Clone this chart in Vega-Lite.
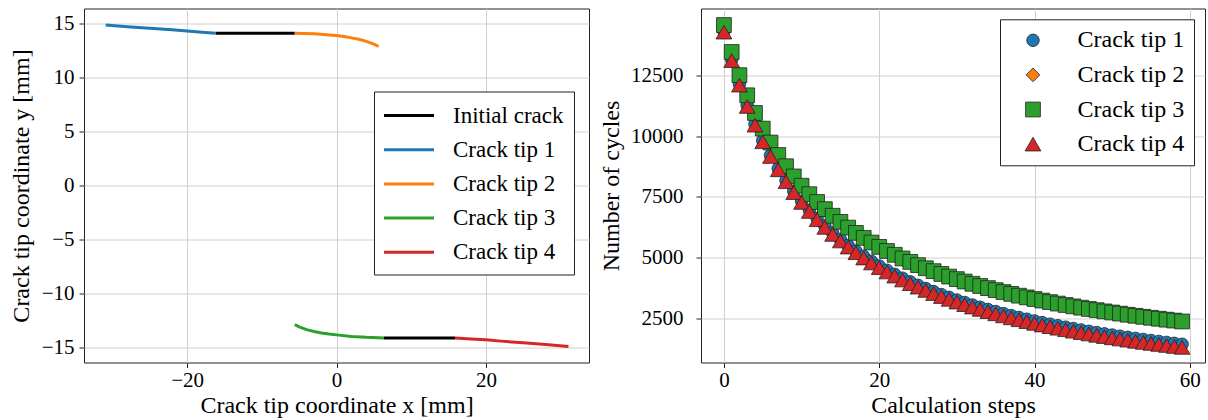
{
  "$schema": "https://vega.github.io/schema/vega-lite/v6.json",
  "background": "white",
  "padding": {"left": 8, "top": 7.5, "right": 0, "bottom": 0},
  "spacing": 8,
  "resolve": {"scale": {"color": "independent", "shape": "independent", "size": "independent"}, "legend": {"color": "independent", "shape": "independent", "size": "independent"}},
  "config": {
    "font": "Liberation Serif",
    "view": {"stroke": "#222", "strokeWidth": 1},
    "axis": {"grid": true, "gridColor": "#d0d0d0", "gridWidth": 1, "domain": false, "tickColor": "#222", "tickSize": 5, "labelFont": "Liberation Serif", "labelFontSize": 21, "labelColor": "#000", "titleFont": "Liberation Serif", "titleFontSize": 24, "titleFontWeight": "normal", "titleColor": "#000", "labelPadding": 2, "labelFlush": false, "labelOverlap": false},
    "axisX": {"titlePadding": 2.5},
    "legend": {"labelFont": "Liberation Serif", "labelFontSize": 23.5, "labelColor": "#000", "strokeColor": "#222", "fillColor": "#ffffff", "cornerRadius": 0, "title": null}
  },
  "hconcat": [
    {
      "width": 505,
      "height": 354,
      "data": {"values": [
        {"g": "Initial crack", "seg": "i1", "x": -16.17, "y": 14.11},
        {"g": "Initial crack", "seg": "i1", "x": -5.59, "y": 14.11},
        {"g": "Initial crack", "seg": "i2", "x": 6.3, "y": -14.13},
        {"g": "Initial crack", "seg": "i2", "x": 15.86, "y": -14.13},
        {"g": "Crack tip 1", "seg": "t1", "x": -30.9, "y": 14.88},
        {"g": "Crack tip 1", "seg": "t1", "x": -28, "y": 14.72},
        {"g": "Crack tip 1", "seg": "t1", "x": -25, "y": 14.57},
        {"g": "Crack tip 1", "seg": "t1", "x": -22, "y": 14.42},
        {"g": "Crack tip 1", "seg": "t1", "x": -20, "y": 14.32},
        {"g": "Crack tip 1", "seg": "t1", "x": -18, "y": 14.2},
        {"g": "Crack tip 1", "seg": "t1", "x": -16.17, "y": 14.11},
        {"g": "Crack tip 2", "seg": "t2", "x": -5.59, "y": 14.11},
        {"g": "Crack tip 2", "seg": "t2", "x": -3, "y": 14.05},
        {"g": "Crack tip 2", "seg": "t2", "x": -1, "y": 13.95},
        {"g": "Crack tip 2", "seg": "t2", "x": 0, "y": 13.89},
        {"g": "Crack tip 2", "seg": "t2", "x": 1, "y": 13.8},
        {"g": "Crack tip 2", "seg": "t2", "x": 2, "y": 13.68},
        {"g": "Crack tip 2", "seg": "t2", "x": 3, "y": 13.55},
        {"g": "Crack tip 2", "seg": "t2", "x": 4, "y": 13.35},
        {"g": "Crack tip 2", "seg": "t2", "x": 5, "y": 13.1},
        {"g": "Crack tip 2", "seg": "t2", "x": 5.65, "y": 12.88},
        {"g": "Crack tip 3", "seg": "t3", "x": -5.59, "y": -12.88},
        {"g": "Crack tip 3", "seg": "t3", "x": -5, "y": -13.1},
        {"g": "Crack tip 3", "seg": "t3", "x": -4, "y": -13.35},
        {"g": "Crack tip 3", "seg": "t3", "x": -3, "y": -13.52},
        {"g": "Crack tip 3", "seg": "t3", "x": -2, "y": -13.66},
        {"g": "Crack tip 3", "seg": "t3", "x": -1, "y": -13.76},
        {"g": "Crack tip 3", "seg": "t3", "x": 0, "y": -13.84},
        {"g": "Crack tip 3", "seg": "t3", "x": 2, "y": -13.98},
        {"g": "Crack tip 3", "seg": "t3", "x": 4, "y": -14.07},
        {"g": "Crack tip 3", "seg": "t3", "x": 6.3, "y": -14.13},
        {"g": "Crack tip 4", "seg": "t4", "x": 15.86, "y": -14.13},
        {"g": "Crack tip 4", "seg": "t4", "x": 18, "y": -14.22},
        {"g": "Crack tip 4", "seg": "t4", "x": 20, "y": -14.3},
        {"g": "Crack tip 4", "seg": "t4", "x": 22, "y": -14.42},
        {"g": "Crack tip 4", "seg": "t4", "x": 25, "y": -14.57},
        {"g": "Crack tip 4", "seg": "t4", "x": 28, "y": -14.74},
        {"g": "Crack tip 4", "seg": "t4", "x": 31.05, "y": -14.92}
      ]},
      "mark": {"type": "line", "strokeWidth": 3},
      "encoding": {
        "x": {"field": "x", "type": "quantitative", "scale": {"domain": [-33.8, 33.8], "nice": false, "zero": false}, "axis": {"title": "Crack tip coordinate x [mm]", "values": [-20, 0, 20]}},
        "y": {"field": "y", "type": "quantitative", "scale": {"domain": [-16.4, 16.4], "nice": false, "zero": false}, "axis": {"title": "Crack tip coordinate y [mm]", "values": [-15, -10, -5, 0, 5, 10, 15], "minExtent": 41, "maxExtent": 41, "labelPadding": 5, "titlePadding": 10}},
        "color": {"field": "g", "type": "nominal", "scale": {"domain": ["Initial crack", "Crack tip 1", "Crack tip 2", "Crack tip 3", "Crack tip 4"], "range": ["#000000", "#1f77b4", "#ff7f0e", "#2ca02c", "#d62728"]}, "legend": {"orient": "none", "legendX": 290, "legendY": 83, "padding": 10, "symbolType": "M-2,0H2", "symbolSize": 625, "symbolStrokeWidth": 3, "symbolOffset": 11, "labelOffset": 30, "rowPadding": 8.2, "labelFontSize": 23}},
        "detail": {"field": "seg"}
      }
    },
    {
      "width": 504,
      "height": 354,
      "data": {"values": [
        {"s": 0, "Crack tip 1": 14309, "Crack tip 2": 14541, "Crack tip 3": 14561, "Crack tip 4": 14269},
        {"s": 1, "Crack tip 1": 13142, "Crack tip 2": 13434, "Crack tip 3": 13454, "Crack tip 4": 13100},
        {"s": 2, "Crack tip 1": 12136, "Crack tip 2": 12482, "Crack tip 3": 12502, "Crack tip 4": 12093},
        {"s": 3, "Crack tip 1": 11262, "Crack tip 2": 11655, "Crack tip 3": 11675, "Crack tip 4": 11217},
        {"s": 4, "Crack tip 1": 10494, "Crack tip 2": 10929, "Crack tip 3": 10949, "Crack tip 4": 10448},
        {"s": 5, "Crack tip 1": 9815, "Crack tip 2": 10287, "Crack tip 3": 10307, "Crack tip 4": 9767},
        {"s": 6, "Crack tip 1": 9209, "Crack tip 2": 9715, "Crack tip 3": 9735, "Crack tip 4": 9160},
        {"s": 7, "Crack tip 1": 8666, "Crack tip 2": 9203, "Crack tip 3": 9223, "Crack tip 4": 8615},
        {"s": 8, "Crack tip 1": 8177, "Crack tip 2": 8741, "Crack tip 3": 8761, "Crack tip 4": 8125},
        {"s": 9, "Crack tip 1": 7733, "Crack tip 2": 8322, "Crack tip 3": 8342, "Crack tip 4": 7679},
        {"s": 10, "Crack tip 1": 7329, "Crack tip 2": 7941, "Crack tip 3": 7961, "Crack tip 4": 7274},
        {"s": 11, "Crack tip 1": 6960, "Crack tip 2": 7593, "Crack tip 3": 7613, "Crack tip 4": 6903},
        {"s": 12, "Crack tip 1": 6621, "Crack tip 2": 7273, "Crack tip 3": 7293, "Crack tip 4": 6563},
        {"s": 13, "Crack tip 1": 6310, "Crack tip 2": 6979, "Crack tip 3": 6999, "Crack tip 4": 6250},
        {"s": 14, "Crack tip 1": 6021, "Crack tip 2": 6707, "Crack tip 3": 6727, "Crack tip 4": 5960},
        {"s": 15, "Crack tip 1": 5754, "Crack tip 2": 6455, "Crack tip 3": 6475, "Crack tip 4": 5691},
        {"s": 16, "Crack tip 1": 5506, "Crack tip 2": 6221, "Crack tip 3": 6241, "Crack tip 4": 5442},
        {"s": 17, "Crack tip 1": 5275, "Crack tip 2": 6003, "Crack tip 3": 6023, "Crack tip 4": 5209},
        {"s": 18, "Crack tip 1": 5058, "Crack tip 2": 5799, "Crack tip 3": 5819, "Crack tip 4": 4991},
        {"s": 19, "Crack tip 1": 4857, "Crack tip 2": 5608, "Crack tip 3": 5628, "Crack tip 4": 4788},
        {"s": 20, "Crack tip 1": 4667, "Crack tip 2": 5429, "Crack tip 3": 5449, "Crack tip 4": 4597},
        {"s": 21, "Crack tip 1": 4489, "Crack tip 2": 5261, "Crack tip 3": 5281, "Crack tip 4": 4417},
        {"s": 22, "Crack tip 1": 4321, "Crack tip 2": 5103, "Crack tip 3": 5123, "Crack tip 4": 4248},
        {"s": 23, "Crack tip 1": 4164, "Crack tip 2": 4953, "Crack tip 3": 4973, "Crack tip 4": 4089},
        {"s": 24, "Crack tip 1": 4014, "Crack tip 2": 4812, "Crack tip 3": 4832, "Crack tip 4": 3938},
        {"s": 25, "Crack tip 1": 3873, "Crack tip 2": 4678, "Crack tip 3": 4698, "Crack tip 4": 3795},
        {"s": 26, "Crack tip 1": 3739, "Crack tip 2": 4552, "Crack tip 3": 4572, "Crack tip 4": 3660},
        {"s": 27, "Crack tip 1": 3613, "Crack tip 2": 4432, "Crack tip 3": 4452, "Crack tip 4": 3532},
        {"s": 28, "Crack tip 1": 3491, "Crack tip 2": 4317, "Crack tip 3": 4337, "Crack tip 4": 3409},
        {"s": 29, "Crack tip 1": 3377, "Crack tip 2": 4209, "Crack tip 3": 4229, "Crack tip 4": 3293},
        {"s": 30, "Crack tip 1": 3268, "Crack tip 2": 4105, "Crack tip 3": 4125, "Crack tip 4": 3183},
        {"s": 31, "Crack tip 1": 3164, "Crack tip 2": 4006, "Crack tip 3": 4026, "Crack tip 4": 3077},
        {"s": 32, "Crack tip 1": 3064, "Crack tip 2": 3912, "Crack tip 3": 3932, "Crack tip 4": 2976},
        {"s": 33, "Crack tip 1": 2970, "Crack tip 2": 3822, "Crack tip 3": 3842, "Crack tip 4": 2880},
        {"s": 34, "Crack tip 1": 2879, "Crack tip 2": 3736, "Crack tip 3": 3756, "Crack tip 4": 2788},
        {"s": 35, "Crack tip 1": 2792, "Crack tip 2": 3653, "Crack tip 3": 3673, "Crack tip 4": 2699},
        {"s": 36, "Crack tip 1": 2708, "Crack tip 2": 3574, "Crack tip 3": 3594, "Crack tip 4": 2614},
        {"s": 37, "Crack tip 1": 2629, "Crack tip 2": 3498, "Crack tip 3": 3518, "Crack tip 4": 2533},
        {"s": 38, "Crack tip 1": 2552, "Crack tip 2": 3425, "Crack tip 3": 3445, "Crack tip 4": 2455},
        {"s": 39, "Crack tip 1": 2479, "Crack tip 2": 3355, "Crack tip 3": 3375, "Crack tip 4": 2380},
        {"s": 40, "Crack tip 1": 2408, "Crack tip 2": 3288, "Crack tip 3": 3308, "Crack tip 4": 2308},
        {"s": 41, "Crack tip 1": 2341, "Crack tip 2": 3223, "Crack tip 3": 3243, "Crack tip 4": 2239},
        {"s": 42, "Crack tip 1": 2275, "Crack tip 2": 3160, "Crack tip 3": 3180, "Crack tip 4": 2172},
        {"s": 43, "Crack tip 1": 2212, "Crack tip 2": 3100, "Crack tip 3": 3120, "Crack tip 4": 2107},
        {"s": 44, "Crack tip 1": 2151, "Crack tip 2": 3042, "Crack tip 3": 3062, "Crack tip 4": 2045},
        {"s": 45, "Crack tip 1": 2093, "Crack tip 2": 2986, "Crack tip 3": 3006, "Crack tip 4": 1985},
        {"s": 46, "Crack tip 1": 2036, "Crack tip 2": 2932, "Crack tip 3": 2952, "Crack tip 4": 1927},
        {"s": 47, "Crack tip 1": 1982, "Crack tip 2": 2879, "Crack tip 3": 2899, "Crack tip 4": 1871},
        {"s": 48, "Crack tip 1": 1929, "Crack tip 2": 2829, "Crack tip 3": 2849, "Crack tip 4": 1817},
        {"s": 49, "Crack tip 1": 1878, "Crack tip 2": 2780, "Crack tip 3": 2800, "Crack tip 4": 1764},
        {"s": 50, "Crack tip 1": 1829, "Crack tip 2": 2733, "Crack tip 3": 2753, "Crack tip 4": 1714},
        {"s": 51, "Crack tip 1": 1782, "Crack tip 2": 2687, "Crack tip 3": 2707, "Crack tip 4": 1665},
        {"s": 52, "Crack tip 1": 1735, "Crack tip 2": 2642, "Crack tip 3": 2662, "Crack tip 4": 1617},
        {"s": 53, "Crack tip 1": 1691, "Crack tip 2": 2599, "Crack tip 3": 2619, "Crack tip 4": 1571},
        {"s": 54, "Crack tip 1": 1647, "Crack tip 2": 2557, "Crack tip 3": 2577, "Crack tip 4": 1526},
        {"s": 55, "Crack tip 1": 1606, "Crack tip 2": 2517, "Crack tip 3": 2537, "Crack tip 4": 1483},
        {"s": 56, "Crack tip 1": 1565, "Crack tip 2": 2478, "Crack tip 3": 2498, "Crack tip 4": 1441},
        {"s": 57, "Crack tip 1": 1526, "Crack tip 2": 2439, "Crack tip 3": 2459, "Crack tip 4": 1400},
        {"s": 58, "Crack tip 1": 1487, "Crack tip 2": 2402, "Crack tip 3": 2422, "Crack tip 4": 1360},
        {"s": 59, "Crack tip 1": 1450, "Crack tip 2": 2366, "Crack tip 3": 2386, "Crack tip 4": 1321}
      ]},
      "transform": [{"fold": ["Crack tip 1", "Crack tip 2", "Crack tip 3", "Crack tip 4"], "as": ["tip", "n"]}],
      "mark": {"type": "point", "filled": true, "opacity": 1, "stroke": "#222", "strokeWidth": 0.8},
      "encoding": {
        "x": {"field": "s", "type": "quantitative", "scale": {"domain": [-2.95, 61.95], "nice": false, "zero": false}, "axis": {"title": "Calculation steps", "values": [0, 20, 40, 60]}},
        "y": {"field": "n", "type": "quantitative", "scale": {"domain": [700, 15240], "nice": false, "zero": false}, "axis": {"title": "Number of cycles", "values": [2500, 5000, 7500, 10000, 12500], "format": "d", "minExtent": 68, "maxExtent": 68, "labelPadding": 13, "titlePadding": 10}},
        "color": {"field": "tip", "type": "nominal", "scale": {"domain": ["Crack tip 1", "Crack tip 2", "Crack tip 3", "Crack tip 4"], "range": ["#1f77b4", "#ff7f0e", "#2ca02c", "#d62728"]}, "legend": {"orient": "none", "legendX": 299, "legendY": 10.8, "padding": 9, "symbolOffset": 12, "labelOffset": 32.5, "rowPadding": 10.6, "labelFontSize": 24, "symbolStrokeColor": "#222", "symbolStrokeWidth": 0.8}},
        "shape": {"field": "tip", "type": "nominal", "scale": {"domain": ["Crack tip 1", "Crack tip 2", "Crack tip 3", "Crack tip 4"], "range": ["circle", "diamond", "square", "triangle-up"]}, "legend": {"orient": "none", "legendX": 299, "legendY": 10.8, "padding": 9, "symbolOffset": 12, "labelOffset": 32.5, "rowPadding": 10.6, "labelFontSize": 24, "symbolStrokeColor": "#222", "symbolStrokeWidth": 0.8}},
        "size": {"field": "tip", "type": "nominal", "scale": {"domain": ["Crack tip 1", "Crack tip 2", "Crack tip 3", "Crack tip 4"], "range": [156, 250, 156, 215]}, "legend": {"orient": "none", "legendX": 299, "legendY": 10.8, "padding": 9, "symbolOffset": 12, "labelOffset": 32.5, "rowPadding": 10.6, "labelFontSize": 24, "symbolStrokeColor": "#222", "symbolStrokeWidth": 0.8}},
        "order": {"field": "tip"}
      }
    }
  ]
}
